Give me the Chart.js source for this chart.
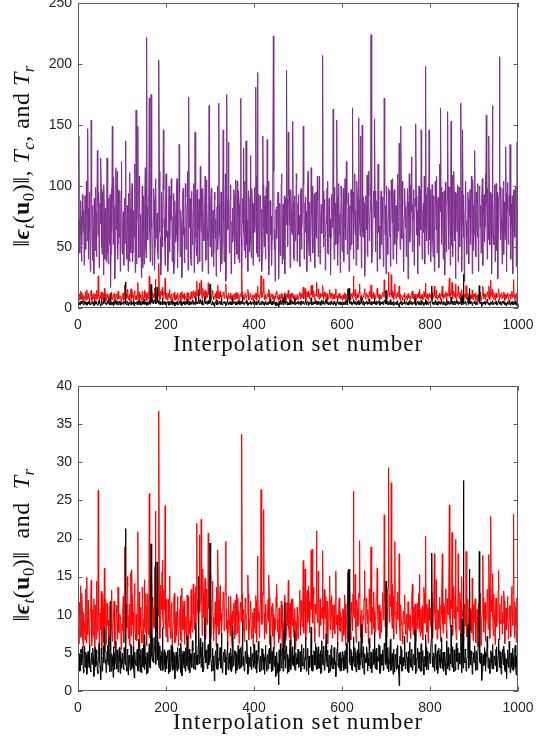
<!DOCTYPE html>
<html><head><meta charset="utf-8">
<script src="https://cdn.jsdelivr.net/npm/chart.js@4.4.1/dist/chart.umd.min.js"></script>
<style>
html,body{margin:0;padding:0;background:#fff;}
#wrap{position:relative;width:536px;height:747px;overflow:hidden;background:#fff;}
canvas{position:absolute;left:0;}
#c1{top:0;} #c2{top:370px;}
</style></head><body>
<div id="wrap"><canvas id="c1" width="536" height="370"></canvas><canvas id="c2" width="536" height="377"></canvas></div>
<script>
// ---- tick labels ----
const xTicks = [0, 200, 400, 600, 800, 1000];
const yTicksTop = [0, 50, 100, 150, 200, 250];
const yTicksBottom = [0, 5, 10, 15, 20, 25, 30, 35, 40];
const xTitle = 'Interpolation set number';

// ---- series: even interpolation sets (x = 2,4,...,1000) ----
const Tc = [
141,45,88,38,93,62,35,92,48,76,147,40,95,30,154,55,84,28,71,99,42,129,60,33,86,123,50,95,27,80,61,38,123,45,90,70,17,98,149,52,83,24,115,64,40,97,58,30,89,47,
68,35,90,137,52,84,30,72,111,45,96,38,80,58,29,162,70,149,41,93,55,25,100,63,36,87,48,222,60,92,172,38,175,66,44,98,31,85,57,78,40,203,62,27,95,50,146,72,35,110,
58,30,84,46,92,106,38,75,28,88,54,99,33,67,134,42,80,25,94,60,37,102,48,85,31,173,66,40,96,52,78,29,144,58,90,36,71,47,116,62,30,98,55,82,39,105,64,28,166,50,
88,42,70,34,95,57,26,83,48,168,60,30,92,52,146,38,76,22,175,64,136,45,88,28,71,54,97,36,80,62,104,40,85,58,172,33,90,131,47,74,137,52,30,95,60,125,41,86,35,78,
62,181,45,193,70,38,92,55,30,141,66,84,40,99,138,52,27,88,60,35,96,223,48,22,81,57,94,24,70,43,102,36,85,58,28,90,195,50,144,68,33,97,62,153,41,80,55,110,38,86,
60,34,95,48,78,149,40,86,62,30,99,55,72,38,115,64,45,90,33,82,57,108,42,96,36,74,61,207,50,88,31,70,98,45,84,58,27,93,66,163,40,77,52,154,35,91,60,29,100,48,
72,38,90,56,120,44,82,30,66,97,52,164,40,78,60,35,104,48,156,70,141,33,150,58,86,26,92,64,42,112,55,80,224,37,69,96,155,46,84,30,118,62,40,90,52,76,34,172,60,28,
86,44,98,58,34,105,70,40,92,52,80,36,110,63,135,48,149,57,84,30,96,66,42,88,24,75,54,101,124,46,72,35,90,151,60,28,83,51,97,146,40,78,62,36,198,55,88,44,146,67,
38,92,56,80,30,104,64,45,88,33,118,164,52,76,40,96,27,84,60,161,48,93,35,153,70,42,112,55,24,86,63,38,99,50,168,30,146,58,22,80,66,44,95,36,74,52,108,28,84,60,
129,42,86,58,30,100,66,45,90,35,78,54,110,158,40,72,141,52,95,28,166,60,84,38,102,47,24,88,206,56,74,36,98,44,62,132,30,80,52,92,134,40,68,28,96,58,84,34,136,62
];
const Tr = [
6.2,9.8,13.8,7.1,10.5,5.8,8.9,6.7,11.2,14.9,7.4,9.1,5.6,10.8,14.5,6.9,8.3,12.1,5.2,9.6,14.4,7.8,26.3,6.4,10.2,8.0,5.5,12.7,7.3,16.1,9.4,6.1,11.5,8.6,5.9,10.9,7.0,13.2,6.5,9.0,11.8,5.7,8.4,10.3,6.8,12.0,7.6,9.7,5.4,8.8,
10.6,6.3,18.9,8.1,11.4,15.0,7.2,9.9,6.0,15.5,15.9,8.7,5.8,12.3,7.5,10.1,6.6,20.9,9.2,5.3,11.0,7.9,13.6,6.2,9.5,8.3,12.8,5.9,10.4,7.4,25.9,9.0,14.2,6.8,11.7,8.5,16.3,23.6,7.7,12.5,9.8,36.7,6.9,13.9,10.7,17.2,8.2,11.3,24.3,7.1,
12.1,6.4,9.3,15.1,7.8,10.6,5.7,8.9,11.9,6.3,9.7,7.2,12.4,5.9,8.6,10.8,6.7,13.5,8.0,11.1,6.1,9.4,7.5,12.6,5.6,10.2,8.4,6.9,11.6,7.7,14.0,9.1,12.9,6.5,22.0,10.4,8.2,20.5,11.8,22.5,7.3,16.0,9.6,13.1,6.8,10.9,8.7,20.7,12.2,15.4,
7.0,10.3,14.4,6.6,9.0,11.7,5.8,8.5,18.5,7.4,12.0,9.2,6.3,10.7,13.0,7.9,11.2,19.6,8.1,6.0,12.4,9.5,7.2,10.0,5.7,8.8,11.5,6.9,9.3,12.7,7.6,10.5,6.2,8.4,11.0,33.7,7.1,9.8,6.5,12.2,8.0,10.1,15.2,6.7,9.0,11.4,7.3,8.6,5.9,10.8,
8.3,12.5,6.4,17.7,9.1,7.0,11.3,26.4,8.7,12.9,23.8,6.8,10.2,7.5,9.6,12.0,15.2,6.1,8.9,11.1,7.2,10.0,5.6,9.4,12.3,14.0,7.8,6.3,10.6,8.2,11.8,5.8,9.0,7.4,12.6,6.6,10.4,8.5,14.5,7.0,11.5,6.0,9.3,12.1,7.7,10.7,5.5,8.8,11.0,6.9,
9.7,13.2,7.3,11.6,8.4,17.1,10.5,16.0,6.7,12.4,9.0,13.8,7.6,11.1,18.4,18.6,8.9,12.7,6.4,10.3,21.0,9.4,15.7,7.1,12.0,8.6,10.9,18.4,6.8,13.3,9.5,7.2,11.8,6.2,10.1,15.1,8.0,12.5,6.9,9.9,11.3,7.5,15.7,8.7,6.1,10.6,12.2,7.8,9.2,6.5,
10.8,7.3,12.6,6.0,9.4,11.5,15.8,8.2,13.1,6.7,10.3,7.9,26.2,9.6,15.3,6.4,11.9,8.5,12.8,19.7,7.0,10.6,6.3,9.8,12.1,15.8,7.6,11.0,8.8,6.2,13.4,9.1,18.9,7.4,10.2,13.0,6.6,9.7,12.3,16.1,8.0,11.2,6.9,10.5,7.7,12.9,9.3,23.1,8.4,11.6,
7.1,13.5,29.3,9.0,11.8,27.3,8.2,12.4,6.8,19.6,10.1,7.5,13.0,9.3,18.0,6.6,11.2,8.7,6.2,10.4,12.6,7.8,9.5,6.4,11.7,8.3,10.0,6.9,12.2,14.0,7.4,9.8,11.4,6.5,10.7,8.1,12.8,15.3,7.2,9.6,11.0,6.7,13.6,8.9,20.3,7.7,10.9,6.3,12.0,9.2,
8.6,13.0,7.0,11.5,18.0,9.4,14.6,6.8,10.7,8.2,12.3,6.5,9.9,18.0,7.6,11.1,8.8,13.4,6.9,10.2,12.0,24.4,8.4,11.6,20.8,7.3,12.7,9.5,19.9,6.7,10.8,18.0,8.0,12.9,7.2,15.0,9.7,6.4,11.3,8.5,18.3,7.1,12.1,6.2,9.8,7.9,10.5,14.8,6.6,9.0,
11.4,6.3,8.7,5.8,10.1,7.4,12.5,6.0,9.2,17.8,7.7,11.0,6.5,9.6,13.3,8.1,17.9,6.9,22.9,10.4,15.4,7.2,9.9,6.1,12.2,8.4,10.7,15.8,6.7,9.3,11.8,7.5,8.9,13.1,6.2,10.6,8.0,12.4,6.8,9.5,11.2,7.1,13.7,8.6,23.2,7.0,10.9,6.4,12.0,20.9
];
const epsNorm = [
4.1,2.6,5.3,3.4,5.8,2.9,4.6,3.1,5.1,2.2,4.8,3.7,6.0,2.8,4.3,3.5,5.6,1.9,4.9,3.2,5.4,2.7,4.0,6.3,3.3,1.5,4.7,3.0,5.9,8.2,3.6,2.4,5.2,3.9,7.1,2.5,11.8,3.8,4.5,1.8,5.0,3.4,6.5,2.9,4.4,3.1,5.7,2.3,4.2,3.6,
5.0,2.8,4.4,21.3,3.2,5.5,2.1,4.7,3.6,6.1,2.9,4.2,5.8,1.7,4.0,3.3,5.2,2.6,6.8,3.9,4.5,2.4,5.6,3.1,4.9,7.4,3.5,2.2,5.1,4.3,6.2,3.0,19.3,4.6,7.0,3.7,5.3,17.0,4.1,16.9,6.4,3.4,5.9,2.7,4.8,8.3,3.2,5.4,2.5,4.6,
3.8,5.3,2.3,4.6,3.1,6.0,2.7,4.4,5.1,1.6,4.0,3.5,5.7,2.9,4.8,3.3,6.3,2.0,4.5,3.7,5.2,2.6,4.1,7.2,3.0,5.5,2.4,4.9,3.6,6.6,3.2,5.0,2.8,8.9,4.3,3.4,15.0,4.7,6.9,3.1,5.8,2.5,4.2,9.6,3.7,5.4,2.9,6.1,3.9,19.4,
4.4,2.6,5.6,3.3,1.3,4.9,3.6,6.2,2.8,4.3,5.1,3.0,7.6,2.4,4.7,3.8,5.5,2.1,4.0,6.4,3.4,5.0,2.7,4.6,3.1,8.5,3.7,5.3,2.3,4.8,3.5,6.0,2.9,4.2,5.7,3.2,9.1,4.5,2.6,5.2,3.9,6.7,2.2,4.1,3.6,5.4,2.8,4.9,3.3,6.1,
3.5,5.0,2.4,4.7,6.5,3.1,4.3,2.7,5.6,3.8,4.9,2.2,6.0,3.4,4.5,2.9,5.3,3.6,7.3,2.5,4.1,5.7,3.2,4.6,2.0,5.1,3.7,0.8,4.4,6.2,3.0,5.4,2.6,4.8,11.6,3.9,5.9,2.3,4.2,3.3,6.7,2.8,5.0,3.5,4.6,7.8,2.7,4.3,3.6,5.5,
3.1,4.8,2.5,6.1,3.7,5.2,2.9,4.4,7.0,3.3,5.6,2.1,4.0,3.8,8.4,4.7,2.6,5.3,3.4,6.3,2.8,4.5,5.8,3.0,4.9,2.3,6.6,3.6,5.1,2.7,4.2,7.5,3.2,5.4,2.4,4.6,3.9,6.0,2.9,4.1,5.7,3.5,1.9,4.8,6.4,3.1,5.0,2.6,4.3,3.7,
5.2,2.7,4.6,3.4,6.2,2.4,15.6,16.0,3.8,5.5,2.9,4.4,7.1,3.2,5.0,2.5,4.7,3.6,6.5,2.8,4.1,8.7,3.3,5.3,2.2,4.9,3.7,5.8,2.6,4.3,6.9,3.0,5.1,2.4,4.5,3.5,7.7,2.9,5.6,3.9,4.2,6.1,2.3,4.8,3.4,5.4,2.7,6.3,3.8,14.4,
3.6,5.7,2.5,4.4,6.8,3.1,4.9,2.2,5.5,3.7,4.2,2.8,6.0,3.4,0.7,4.6,5.9,2.6,4.1,3.3,7.2,2.9,5.1,3.8,4.5,2.4,6.4,3.2,5.3,2.7,4.8,3.5,8.0,2.3,4.3,5.6,3.0,4.7,2.6,6.2,3.9,5.0,2.1,4.4,7.4,3.3,5.2,2.8,4.6,3.6,
5.4,18.1,3.2,4.7,2.6,6.1,3.5,4.9,2.3,5.6,3.8,4.2,7.0,2.9,5.1,3.4,4.5,2.1,6.6,3.7,5.3,2.7,4.0,8.6,3.1,5.8,2.5,4.6,3.3,6.3,4.1,2.8,5.0,3.6,7.5,2.4,4.8,27.6,3.9,5.5,2.6,4.3,6.7,3.0,16.0,3.4,5.2,2.2,4.4,3.7,
5.9,2.7,4.5,3.2,6.4,18.3,3.6,5.0,1.4,4.1,3.3,5.7,2.6,4.8,7.2,3.0,4.4,2.3,5.3,3.8,6.1,2.9,4.6,3.4,5.5,2.5,4.0,6.8,3.1,5.1,2.2,4.7,3.7,5.9,2.8,4.3,1.6,5.4,3.5,6.5,2.4,4.9,3.2,5.6,2.7,4.2,6.0,2.1,3.9,6.6
];

// ---- series: odd interpolation sets (x = 1,3,...,999) ----
const TcOdd = [
90,72,60,75,52,70,80,58,66,104,55,82,64,73,61,92,39,66,90,47,78,58,87,95,52,69,98,44,68,101,40,82,60,76,36,52,93,44,63,88,107,70,49,85,112,53,74,96,61,120,
44,79,61,53,99,40,67,94,38,81,57,102,46,73,118,51,36,85,64,108,42,77,59,33,92,70,115,41,83,56,98,62,47,125,35,71,89,50,106,63,45,87,112,58,39,74,66,97,54,81,
96,63,41,100,57,72,88,49,94,37,76,60,106,45,82,95,53,68,39,98,66,48,91,58,112,42,74,90,35,86,61,102,50,79,43,97,64,89,38,75,98,46,70,59,108,40,87,55,93,67,
51,98,62,80,45,89,73,40,100,67,85,52,95,36,94,71,58,110,43,88,65,92,48,101,39,82,60,93,55,105,44,77,96,37,90,57,69,88,63,104,41,84,72,96,46,91,53,98,61,86,
99,70,108,58,42,93,67,86,81,44,101,50,92,73,61,80,104,47,88,75,56,97,112,64,38,83,71,95,46,86,58,110,65,40,92,77,68,89,52,93,97,45,80,60,87,39,92,63,105,57,
93,76,59,98,66,82,101,53,91,79,61,112,43,87,68,77,100,55,94,60,95,74,88,63,108,47,85,82,96,57,89,51,69,104,44,90,73,58,92,86,71,99,86,62,91,54,102,77,64,90,
46,98,65,106,78,85,57,94,84,48,97,79,95,63,110,80,51,92,76,89,59,98,87,62,91,86,45,81,109,68,92,56,83,99,48,86,74,96,61,88,79,103,67,58,96,91,72,53,93,84,
100,57,73,96,89,62,88,106,53,97,69,84,58,84,88,92,66,93,104,61,74,98,83,52,98,87,110,60,79,97,85,97,55,83,92,80,59,100,70,64,99,55,86,108,66,93,61,99,80,56,
97,60,101,42,92,75,85,108,57,91,66,79,99,58,95,63,90,103,46,88,100,59,99,87,51,109,74,90,95,62,94,101,57,89,76,96,68,87,93,54,104,72,65,90,88,97,61,94,105,47,
92,78,95,63,102,49,98,84,60,106,89,93,67,83,86,98,56,95,71,93,58,97,52,101,66,89,95,61,92,93,99,63,72,104,87,56,94,87,103,58,76,98,85,92,63,97,58,100,80,90
];
const TrOdd = [
8.4,11.6,7.0,9.9,12.8,6.6,10.2,8.1,13.4,6.3,9.5,11.9,7.7,8.6,12.2,5.9,10.7,7.3,9.1,11.3,6.8,12.5,8.8,10.0,6.1,9.7,13.1,7.5,11.0,6.4,8.3,12.0,7.2,10.6,9.3,6.9,11.7,8.0,12.9,7.1,9.0,10.4,6.2,11.2,8.7,13.6,7.8,10.1,9.4,6.6,
7.9,12.4,9.2,6.5,10.8,8.3,13.7,6.9,11.4,9.8,7.2,12.6,10.3,8.0,14.1,6.7,9.6,11.8,7.4,13.0,10.5,8.6,6.3,12.1,9.0,14.6,7.6,11.1,8.9,12.7,10.0,7.0,15.2,9.4,12.3,10.9,8.2,13.8,11.5,7.8,14.4,10.2,12.9,8.5,11.7,15.6,9.7,13.3,10.6,8.8,
9.1,7.4,12.0,8.3,10.9,6.9,11.6,7.8,9.5,12.8,6.6,10.4,8.7,11.3,7.1,9.9,12.5,6.4,10.7,8.2,11.8,7.3,9.8,6.8,10.6,12.4,7.5,9.2,13.3,8.5,11.0,10.1,8.0,13.7,11.4,12.2,9.6,14.1,10.3,13.0,11.9,9.4,12.7,10.5,14.8,9.0,13.4,11.2,10.8,12.9,
11.5,8.2,12.3,9.7,7.5,10.4,8.8,13.6,9.9,12.1,7.6,13.8,10.2,8.4,11.3,12.6,9.0,14.0,10.8,9.3,7.7,11.1,8.6,12.4,7.0,10.5,9.4,8.1,11.9,7.4,10.0,12.2,8.9,7.3,11.6,9.1,12.8,8.0,10.7,7.8,11.4,8.5,10.1,12.7,7.9,9.6,11.8,6.9,10.3,8.7,
10.9,7.6,11.8,9.3,13.2,10.4,8.5,14.1,11.7,9.0,12.6,10.2,7.9,11.4,8.3,10.6,9.1,12.3,7.4,10.0,8.8,11.5,7.1,9.6,8.0,11.0,9.4,7.7,10.9,6.8,9.9,8.4,11.3,6.5,10.2,8.9,7.3,11.6,9.7,8.1,10.5,7.2,12.0,8.6,9.5,7.0,10.8,9.2,6.6,10.1,
7.2,10.4,8.8,11.9,9.3,12.5,7.6,11.2,9.9,8.1,13.2,9.6,11.8,8.5,12.9,10.7,9.2,13.6,8.3,11.4,10.1,12.6,9.0,11.7,8.4,12.1,10.8,9.5,11.0,8.7,10.2,12.4,7.7,11.6,9.4,10.9,8.2,12.0,9.8,11.3,8.0,10.5,11.9,9.1,10.0,8.6,11.5,7.9,10.3,9.7,
7.4,10.6,8.1,11.4,6.8,9.7,11.9,8.9,10.2,7.7,11.6,9.4,12.7,10.0,11.2,8.3,7.5,10.8,8.6,12.3,9.9,7.2,10.5,8.0,9.3,11.8,8.4,12.2,9.6,10.7,8.8,11.5,12.9,9.1,11.0,8.2,10.4,7.8,9.5,12.6,10.1,8.7,11.3,9.0,7.9,10.9,12.1,9.8,11.7,8.5,
11.8,9.2,13.5,10.6,12.7,11.1,9.8,14.0,8.6,12.2,10.4,8.0,11.7,9.5,10.9,8.4,11.3,9.0,7.7,10.5,8.8,11.9,7.4,10.1,8.2,11.6,7.9,9.7,10.8,12.4,8.5,11.0,7.3,10.3,8.9,11.5,9.4,12.1,8.1,10.7,7.6,11.2,9.6,12.8,10.0,8.7,11.4,7.8,10.6,9.3,
10.9,8.3,11.6,9.1,12.4,10.2,8.0,11.8,7.7,10.5,9.6,8.4,11.2,12.9,8.8,11.5,9.3,10.7,7.9,12.1,10.0,13.2,9.5,11.9,10.8,8.6,13.7,9.9,12.6,8.2,11.1,10.4,12.3,9.0,11.7,8.7,10.6,9.8,7.5,11.4,8.9,10.3,7.8,9.6,11.0,8.1,10.8,7.6,9.4,11.3,
9.2,12.1,8.4,10.7,7.6,11.5,9.0,12.8,8.2,10.5,12.3,9.4,11.6,8.7,10.1,12.9,9.8,13.5,10.6,12.0,11.2,9.5,12.7,8.9,10.8,11.9,9.3,13.2,10.0,11.4,8.8,12.5,10.3,9.6,11.8,8.5,10.9,9.9,12.4,8.3,11.1,9.7,12.6,10.4,13.9,9.1,11.7,8.6,12.2,14.3
];
const epsNormOdd = [
3.3,4.9,2.7,5.5,3.8,4.4,2.4,5.9,3.6,4.7,2.9,5.2,3.1,4.6,2.5,5.0,3.9,4.2,2.8,5.7,3.5,4.8,2.3,5.3,4.0,3.2,5.6,2.6,4.5,3.7,5.1,4.1,2.9,6.0,3.4,4.7,5.5,2.6,4.9,3.3,5.8,2.8,4.3,3.6,5.4,2.5,4.8,3.9,5.2,3.0,
4.6,3.0,5.7,3.5,4.1,2.6,5.3,3.8,4.4,2.7,5.9,3.3,4.7,2.9,5.1,3.6,4.2,5.5,3.1,4.8,2.5,5.4,4.0,3.4,6.1,2.8,4.5,3.7,5.0,2.4,4.9,3.2,5.8,6.6,3.9,4.3,5.2,7.1,3.5,6.0,4.1,5.6,3.0,4.6,3.8,5.3,2.7,4.9,3.4,5.1,
2.9,4.7,3.6,5.4,2.5,4.3,3.9,5.8,2.8,4.6,3.2,5.1,2.6,4.4,3.7,5.6,2.4,4.9,3.4,5.2,3.0,4.5,5.7,3.3,4.1,2.7,5.5,3.8,4.8,3.1,5.3,2.9,4.2,6.2,3.5,4.7,5.9,3.6,5.0,4.4,3.2,6.4,2.8,4.6,5.3,3.9,4.1,5.6,3.4,6.8,
5.0,3.4,4.1,2.7,4.6,3.2,5.3,2.9,4.8,3.5,4.0,5.7,3.1,4.4,2.6,5.1,3.8,4.5,3.0,5.4,2.8,4.2,3.6,5.6,2.5,4.9,3.3,4.6,3.9,5.2,2.7,4.3,3.7,5.5,3.0,4.8,6.1,3.4,4.1,2.9,5.0,3.6,4.7,2.6,4.4,3.2,5.8,3.9,4.5,3.1,
4.7,2.9,5.3,3.6,4.0,5.1,2.5,4.6,3.3,5.5,2.8,4.4,3.9,5.0,2.6,4.8,3.1,5.6,4.2,3.4,5.2,2.7,4.5,3.8,1.9,4.9,2.4,3.5,5.4,2.6,4.6,3.2,5.7,7.9,4.1,3.0,5.3,3.7,4.8,2.5,5.1,3.9,4.3,5.8,3.3,4.7,2.9,5.0,3.5,4.2,
4.4,3.5,5.2,2.8,4.9,3.3,5.6,3.8,4.1,2.6,5.0,3.9,4.6,3.1,5.4,2.7,4.3,3.6,5.1,4.0,3.2,5.7,2.9,4.5,3.7,5.3,2.5,4.8,3.4,5.9,2.8,4.2,3.9,5.0,3.1,4.7,2.6,5.5,3.5,4.4,2.9,5.2,3.8,4.0,5.6,3.3,4.6,3.0,5.1,2.7,
3.8,4.5,3.1,5.3,2.9,4.8,9.2,6.4,4.2,3.4,5.1,2.7,4.6,3.9,5.7,3.2,4.0,5.4,2.8,4.9,3.5,5.2,4.4,3.0,5.8,2.6,4.3,3.7,5.0,4.1,3.3,5.6,2.9,4.7,3.6,5.5,4.0,3.1,5.2,2.8,4.5,3.9,5.9,2.7,4.8,3.4,5.3,4.6,6.2,3.5,
4.9,2.9,4.2,3.6,5.3,2.7,4.6,3.8,5.1,2.5,4.8,3.2,5.6,3.0,2.4,4.1,3.5,5.4,2.8,4.4,3.9,5.0,3.3,4.7,2.6,5.2,3.7,4.3,3.1,5.5,2.9,4.6,3.4,5.8,2.7,4.2,3.9,5.1,3.0,4.8,2.6,5.3,3.6,4.5,3.2,5.7,2.8,4.1,3.5,5.0,
3.9,6.8,4.5,3.1,5.0,3.7,4.4,2.8,5.3,3.4,4.7,3.0,5.5,3.8,4.2,2.6,5.1,3.5,4.6,2.9,5.7,3.3,4.8,3.6,5.2,4.0,3.2,5.4,2.7,4.9,3.8,5.6,3.1,4.3,3.5,5.9,9.4,3.0,4.6,3.7,5.1,2.8,4.4,8.7,4.1,5.3,3.4,4.8,2.9,5.0,
4.3,3.6,5.2,2.8,4.7,7.6,3.9,4.1,3.0,2.6,4.8,3.5,5.1,3.2,4.5,5.6,3.1,4.0,3.8,5.0,2.9,5.4,3.7,4.4,3.3,5.8,2.7,4.6,3.9,5.3,3.0,4.1,5.5,3.4,4.9,2.5,4.2,3.6,5.2,3.1,4.7,3.8,5.0,2.8,4.4,3.3,5.6,3.0,4.6,3.8
];

// ---- helpers ----
const COL_TC = '#7E2F8E', COL_TR = '#FF0000', COL_EPS = '#000000';
const sansFam = '"Liberation Sans", Arial, Helvetica, sans-serif';
const serifFam = '"Liberation Serif", "DejaVu Serif", serif';
// interleave odd (x=2i+1) and even (x=2i+2) interpolation sets
const toXY = (odd, even) => {
  const out = [];
  even.forEach((v, i) => { out.push({x: 2 * i + 1, y: odd[i]}); out.push({x: 2 * i + 2, y: v}); });
  return out;
};

function framePlugin(yTicks) {
  return {
    id: 'frame',
    afterDraw(chart) {
      const {ctx, chartArea: a, scales: {x, y}} = chart;
      ctx.save();
      ctx.strokeStyle = '#5e5e5e';
      ctx.lineWidth = 1;
      ctx.strokeRect(a.left + 0.5, a.top + 0.5, a.right - a.left - 1, a.bottom - a.top - 1);
      ctx.beginPath();
      const tl = 4.5;
      xTicks.forEach(v => {
        const p = Math.round(x.getPixelForValue(v)) + 0.5;
        ctx.moveTo(p, a.bottom); ctx.lineTo(p, a.bottom - tl);
        ctx.moveTo(p, a.top); ctx.lineTo(p, a.top + tl);
      });
      yTicks.forEach(v => {
        const p = Math.round(y.getPixelForValue(v)) + 0.5;
        ctx.moveTo(a.left, p); ctx.lineTo(a.left + tl, p);
        ctx.moveTo(a.right, p); ctx.lineTo(a.right - tl, p);
      });
      ctx.stroke();
      ctx.restore();
    }
  };
}

function titlePlugin(segs, cx, cy, size, xTitleBaseline) {
  return {
    id: 'titles',
    afterDraw(chart) {
      const ctx = chart.ctx, a = chart.chartArea;
      ctx.save();
      ctx.fillStyle = '#111';
      ctx.textBaseline = 'alphabetic';
      ctx.textAlign = 'left';
      // x title
      ctx.font = '23px ' + serifFam;
      try { ctx.letterSpacing = '1px'; } catch (e) {}
      const w = ctx.measureText(xTitle).width;
      ctx.fillText(xTitle, (a.left + a.right) / 2 - w / 2, xTitleBaseline);
      // y title (rich text, rotated)
      try { ctx.letterSpacing = '0.5px'; } catch (e) {}
      const fontOf = s => (s.st ? s.st + ' ' : '') + (s.sub ? size * 0.7 : size) + 'px ' + serifFam;
      let total = 0;
      segs.forEach(s => { ctx.font = fontOf(s); s.w = ctx.measureText(s.t).width; total += s.w; });
      ctx.translate(cx, cy);
      ctx.rotate(-Math.PI / 2);
      let xx = -total / 2;
      segs.forEach(s => {
        ctx.font = fontOf(s);
        ctx.fillText(s.t, xx, s.sub ? size * 0.22 : 0);
        xx += s.w;
      });
      ctx.restore();
    }
  };
}

function makeChart(id, datasets, yMax, yTicks, padTop, xAxisH, segs, cy, xTitleBaseline) {
  return new Chart(document.getElementById(id), {
    type: 'line',
    data: {datasets},
    options: {
      responsive: false,
      animation: false,
      events: [],
      layout: {padding: {left: 0, right: 18, top: padTop, bottom: 0}},
      plugins: {legend: {display: false}, tooltip: {enabled: false}},
      elements: {point: {radius: 0}, line: {borderWidth: 1, tension: 0}},
      scales: {
        x: {
          type: 'linear', min: 0, max: 1000,
          grid: {display: false, drawTicks: false},
          border: {display: false},
          afterBuildTicks: s => { s.ticks = xTicks.map(v => ({value: v})); },
          afterFit: s => { s.height = xAxisH; s.paddingLeft = 0; s.paddingRight = 0; },
          ticks: {font: {family: sansFam, size: 14}, color: '#262626', padding: 9, maxRotation: 0, autoSkip: false,
                  callback: v => String(v)}
        },
        y: {
          type: 'linear', min: 0, max: yMax,
          grid: {display: false, drawTicks: false},
          border: {display: false},
          afterBuildTicks: s => { s.ticks = yTicks.map(v => ({value: v})); },
          afterFit: s => { s.width = 78; s.paddingTop = 0; s.paddingBottom = 0; },
          ticks: {font: {family: sansFam, size: 14}, color: '#262626', padding: 6, autoSkip: false,
                  callback: v => String(v)}
        }
      }
    },
    plugins: [framePlugin(yTicks), titlePlugin(segs, 29, cy, 24, xTitleBaseline)]
  });
}

const segsTop = [
  {t: '\u2016'}, {t: '\u03F5', st: 'italic bold'}, {t: 't', st: 'italic', sub: true},
  {t: '('}, {t: 'u', st: 'bold'}, {t: '0', sub: true}, {t: ')\u2016, '},
  {t: 'T', st: 'italic'}, {t: 'c', st: 'italic', sub: true}, {t: ', and '},
  {t: 'T', st: 'italic'}, {t: 'r', st: 'italic', sub: true}
];
const segsBottom = [
  {t: '\u2016'}, {t: '\u03F5', st: 'italic bold'}, {t: 't', st: 'italic', sub: true},
  {t: '('}, {t: 'u', st: 'bold'}, {t: '0', sub: true}, {t: ')\u2016  and  '},
  {t: 'T', st: 'italic'}, {t: 'r', st: 'italic', sub: true}
];

makeChart('c1', [
  {data: toXY(epsNormOdd, epsNorm), borderColor: COL_EPS},
  {data: toXY(TrOdd, Tr), borderColor: COL_TR},
  {data: toXY(TcOdd, Tc), borderColor: COL_TC}
], 250, yTicksTop, 3, 62, segsTop, 156, 351);

makeChart('c2', [
  {data: toXY(epsNormOdd, epsNorm), borderColor: COL_EPS},
  {data: toXY(TrOdd, Tr), borderColor: COL_TR}
], 40, yTicksBottom, 16, 56, segsBottom, 175, 359);
</script>
</body></html>
